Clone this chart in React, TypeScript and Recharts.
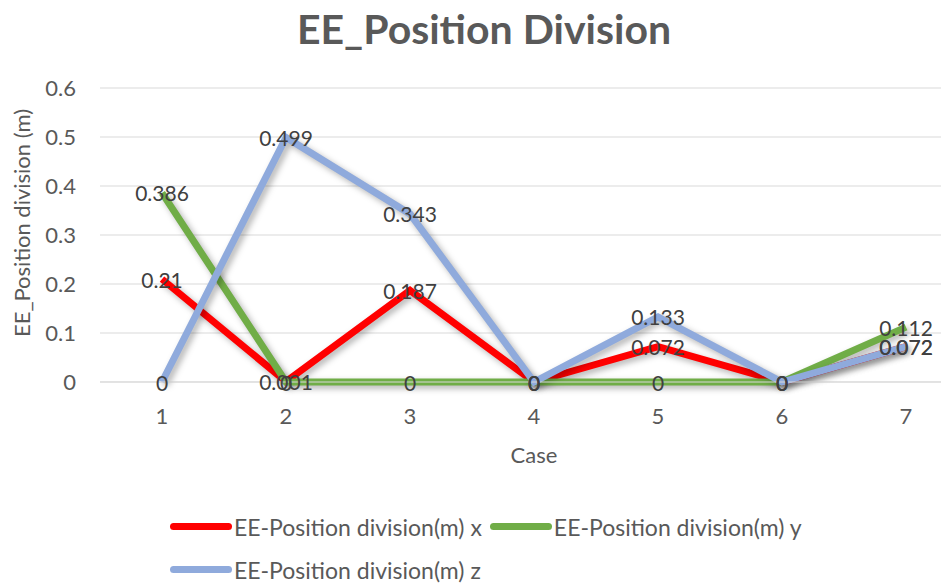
import React from 'react';
import { LineChart, Line, XAxis, YAxis, CartesianGrid, LabelList } from 'recharts';

const cases = [1, 2, 3, 4, 5, 6, 7];
const seriesX = [0.21, 0.001, 0.187, 0, 0.072, 0, 0.072];
const seriesY = [0.386, 0, 0, 0, 0, 0, 0.112];
const seriesZ = [0, 0.499, 0.343, 0, 0.133, 0, 0.072];
const yTicks = [0, 0.1, 0.2, 0.3, 0.4, 0.5, 0.6];

const names = {
  x: 'EE-Position division(m) x',
  y: 'EE-Position division(m) y',
  z: 'EE-Position division(m) z',
};
const colors = { x: '#ff0000', y: '#70ad47', z: '#8faadc' };

const chartData = cases.map((c, i) => ({
  case: c,
  x: seriesX[i],
  y: seriesY[i],
  z: seriesZ[i],
}));

const FONT = 'Lato, "Open Sans", sans-serif';

const ValueLabel = (props: any) => {
  const { x, y, value } = props;
  return (
    <text x={x} y={y} textAnchor="middle" dominantBaseline="central" fill="#404040" fontSize={21} fontFamily={FONT}>
      {value}
    </text>
  );
};

const LegendItem = ({ k }: { k: 'x' | 'y' | 'z' }) => (
  <div style={{ display: 'flex', alignItems: 'center', marginRight: 8 }}>
    <div style={{ width: 62, height: 7, borderRadius: 4, background: colors[k], marginRight: 2 }} />
    <span>{names[k]}</span>
  </div>
);

export default function App() {
  return (
    <div style={{ position: 'fixed', left: 0, top: 0, width: 941, height: 588, overflow: 'hidden', background: '#fff' }}>
      <style>{`.recharts-line-curve { filter: drop-shadow(3px 3px 3px rgba(0,0,0,0.3)); }`}</style>
      <div style={{ position: 'absolute', left: 0, top: 4, width: 968, textAlign: 'center', fontFamily: FONT, fontWeight: 700, fontSize: 41, color: '#595959' }}>
        EE_Position Division
      </div>
      <div style={{ position: 'absolute', left: 21, top: 223, transform: 'translate(-50%, -50%) rotate(-90deg)', whiteSpace: 'nowrap', fontFamily: FONT, fontSize: 22, color: '#595959' }}>
        EE_Position division (m)
      </div>
      <LineChart width={980} height={588} data={chartData} margin={{ top: 88, right: 12, bottom: 120, left: 0 }}>
        <CartesianGrid vertical={false} stroke="#d9d9d9" />
        <XAxis
          dataKey="case"
          type="number"
          domain={[0.5, 7.5]}
          ticks={cases}
          tickSize={0}
          tickMargin={26}
          height={86}
          stroke="#d9d9d9"
          tick={{ fill: '#595959', fontSize: 22, fontFamily: FONT }}
          label={{ value: 'Case', position: 'insideBottom', offset: 5, fill: '#595959', fontSize: 22, fontFamily: FONT }}
        />
        <YAxis
          width={100}
          domain={[0, 0.6]}
          ticks={yTicks}
          tickSize={0}
          tickMargin={24}
          axisLine={false}
          tick={{ fill: '#595959', fontSize: 22, fontFamily: FONT }}
        />
        <Line dataKey="x" name={names.x} stroke={colors.x} strokeWidth={7} dot={false} activeDot={false} isAnimationActive={false} />
        <Line dataKey="y" name={names.y} stroke={colors.y} strokeWidth={7} dot={false} activeDot={false} isAnimationActive={false} />
        <Line dataKey="z" name={names.z} stroke={colors.z} strokeWidth={7} dot={false} activeDot={false} isAnimationActive={false} />
        <Line dataKey="x" stroke="none" legendType="none" dot={false} activeDot={false} isAnimationActive={false}>
          <LabelList dataKey="x" content={<ValueLabel />} />
        </Line>
        <Line dataKey="y" stroke="none" legendType="none" dot={false} activeDot={false} isAnimationActive={false}>
          <LabelList dataKey="y" content={<ValueLabel />} />
        </Line>
        <Line dataKey="z" stroke="none" legendType="none" dot={false} activeDot={false} isAnimationActive={false}>
          <LabelList dataKey="z" content={<ValueLabel />} />
        </Line>
      </LineChart>
      <div style={{ position: 'absolute', left: 170, top: 505, fontFamily: FONT, fontSize: 23, color: '#595959' }}>
        <div style={{ display: 'flex', height: 43, alignItems: 'center' }}>
          <LegendItem k="x" />
          <LegendItem k="y" />
        </div>
        <div style={{ display: 'flex', height: 43, alignItems: 'center' }}>
          <LegendItem k="z" />
        </div>
      </div>
    </div>
  );
}
